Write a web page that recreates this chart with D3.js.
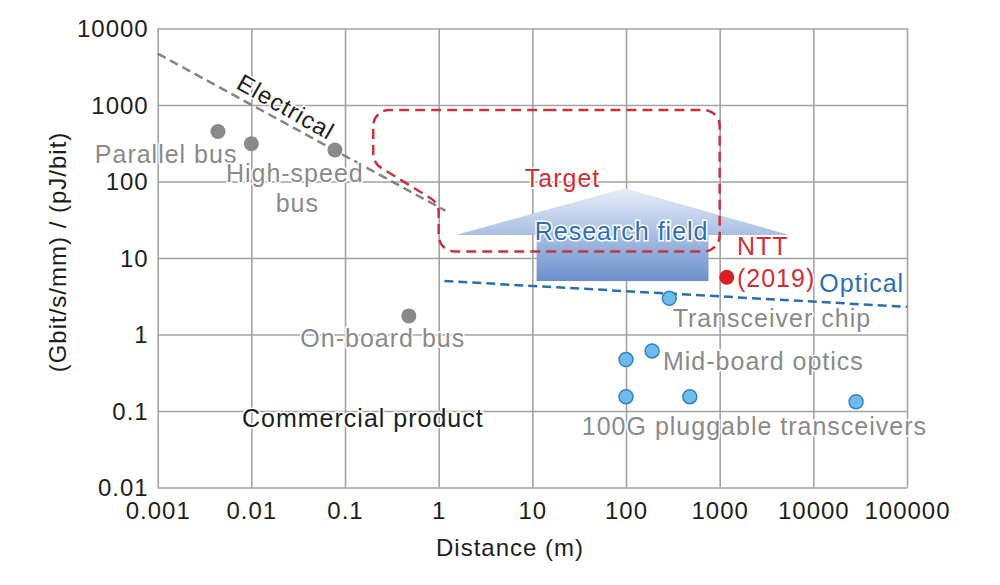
<!DOCTYPE html>
<html>
<head>
<meta charset="utf-8">
<script src="https://cdn.jsdelivr.net/npm/d3@7"></script>
<style>
  body { margin: 0; background: #fff; }
  text { font-family: "Liberation Sans", Arial, sans-serif; letter-spacing: 1px; }
</style>
</head>
<body>
<script>
// axis ticks
var xTicks = [0.001, 0.01, 0.1, 1, 10, 100, 1000, 10000, 100000];
var xTickLabels = ["0.001", "0.01", "0.1", "1", "10", "100", "1000", "10000", "100000"];
var yTicks = [0.01, 0.1, 1, 10, 100, 1000, 10000];
var yTickLabels = ["0.01", "0.1", "1", "10", "100", "1000", "10000"];

// electrical products (distance m, value)
var elecDist = [0.0044, 0.01, 0.078, 0.48];
var elecValue = [450, 312, 258, 1.75];

// optical products
var optDist = [100, 190, 100, 480, 28600, 290];
var optValue = [0.47, 0.61, 0.154, 0.154, 0.132, 2.97];

// NTT (2019)
var nttDist = [1190];
var nttValue = [5.6];

// trend lines
var electricalTrend = [[0.001, 4700], [1.18, 41.5]];
var opticalTrend = [[1.15, 5.0], [100000, 2.3]];

// target region outline and research field arrow
var targetOutline = [[0.2, 860], [1000, 860], [1000, 12.2], [1, 12.2], [1, 52], [0.2, 175]];
var arrowHead = [[1.53, 20], [97, 81.5], [5550, 20]];
var arrowBodyX = [11.1, 760];
var arrowBodyY = [5, 20];

// chart size
var plotLeft = 157.7, plotTop = 28.5, plotRight = 907, plotBottom = 487.5;

var svg = d3.select("body")
            .append("svg")
            .attr("width", 1000)
            .attr("height", 585);

var x = d3.scaleLog().domain([0.001, 100000]).range([plotLeft, plotRight]);
var y = d3.scaleLog().domain([0.01, 10000]).range([plotBottom, plotTop]);

// gradient for the arrow
var grad = svg.append("defs").append("linearGradient")
              .attr("id", "arrowGrad")
              .attr("gradientUnits", "userSpaceOnUse")
              .attr("x1", 0).attr("x2", 0)
              .attr("y1", y(81.5)).attr("y2", y(5));
grad.append("stop").attr("offset", 0).attr("stop-color", "#e8eef8");
grad.append("stop").attr("offset", 0.5).attr("stop-color", "#a9bfe3");
grad.append("stop").attr("offset", 1).attr("stop-color", "#6b8fcc");

// grid
var xAxis = d3.axisBottom(x).tickValues(xTicks)
              .tickSize(-(plotBottom - plotTop))
              .tickFormat(function(d, i) { return xTickLabels[i]; });
var yAxis = d3.axisLeft(y).tickValues(yTicks)
              .tickSize(-(plotRight - plotLeft))
              .tickFormat(function(d, i) { return yTickLabels[i]; });

var gx = svg.append("g")
            .attr("transform", "translate(0," + plotBottom + ")")
            .call(xAxis);
var gy = svg.append("g")
            .attr("transform", "translate(" + plotLeft + ",0)")
            .call(yAxis);

[gx, gy].forEach(function(g) {
  g.select(".domain").remove();
  g.selectAll(".tick line").attr("stroke", "#a3a3a3").attr("stroke-width", 1.6);
  g.selectAll(".tick text").attr("fill", "#1e1e1e").style("font-size", "24px");
});
gx.selectAll(".tick text").attr("y", 14).attr("dy", "0.71em");
gy.selectAll(".tick text").attr("x", -9).attr("dy", "0.34em");

// arrow (research field)
svg.append("rect")
   .attr("x", x(arrowBodyX[0]))
   .attr("y", y(arrowBodyY[1]))
   .attr("width", x(arrowBodyX[1]) - x(arrowBodyX[0]))
   .attr("height", y(arrowBodyY[0]) - y(arrowBodyY[1]))
   .attr("fill", "url(#arrowGrad)");
svg.append("path")
   .attr("d", d3.line().x(function(d) { return x(d[0]); }).y(function(d) { return y(d[1]); })(arrowHead) + "Z")
   .attr("fill", "url(#arrowGrad)");

// trend lines
var line = d3.line().x(function(d) { return x(d[0]); }).y(function(d) { return y(d[1]); });
svg.append("path")
   .attr("d", line(electricalTrend))
   .attr("fill", "none")
   .attr("stroke", "#858585")
   .attr("stroke-width", 2.5)
   .attr("stroke-dasharray", "9,5");
svg.append("path")
   .attr("d", line(opticalTrend))
   .attr("fill", "none")
   .attr("stroke", "#2c6ea8")
   .attr("stroke-width", 2.5)
   .attr("stroke-dasharray", "9,5");

// target outline with rounded corners
var pts = targetOutline.map(function(d) { return [x(d[0]), y(d[1])]; });
var p = d3.path();
p.moveTo((pts[0][0] + pts[1][0]) / 2, (pts[0][1] + pts[1][1]) / 2);
for (var i = 1; i <= pts.length; i++) {
  var a = pts[i % pts.length], b = pts[(i + 1) % pts.length];
  p.arcTo(a[0], a[1], b[0], b[1], 16);
}
p.closePath();
svg.append("path")
   .attr("d", p.toString())
   .attr("fill", "none")
   .attr("stroke", "#c9323c")
   .attr("stroke-width", 2.5)
   .attr("stroke-dasharray", "10,6");

// points
svg.selectAll("circle.elec")
   .data(elecDist)
   .enter()
   .append("circle")
   .attr("class", "elec")
   .attr("cx", function(d) { return x(d); })
   .attr("cy", function(d, i) { return y(elecValue[i]); })
   .attr("r", 7.5)
   .attr("fill", "#8a8a8c");

svg.selectAll("circle.opt")
   .data(optDist)
   .enter()
   .append("circle")
   .attr("class", "opt")
   .attr("cx", function(d) { return x(d); })
   .attr("cy", function(d, i) { return y(optValue[i]); })
   .attr("r", 7)
   .attr("fill", "#6dbcec")
   .attr("stroke", "#3383c3")
   .attr("stroke-width", 1.5);

svg.selectAll("circle.ntt")
   .data(nttDist)
   .enter()
   .append("circle")
   .attr("class", "ntt")
   .attr("cx", function(d) { return x(d); })
   .attr("cy", function(d, i) { return y(nttValue[i]); })
   .attr("r", 7.5)
   .attr("fill", "#d91f24");

// annotations: text, distance, value, colour, anchor
var gray = "#8a8a8a", red = "#cf3037", blue = "#2d6fb6", black = "#1e1e1e";
var notes = [
  ["Parallel bus", 0.00123, 175, gray, "middle"],
  ["High-speed", 0.0291, 98.5, gray, "middle"],
  ["bus", 0.031, 40, gray, "middle"],
  ["On-board bus", 0.253, 0.687, gray, "middle"],
  ["Commercial product", 0.155, 0.0618, black, "middle"],
  ["Target", 21, 84.7, red, "middle"],
  ["Research field", 89.8, 17.2, blue, "middle"],
  ["NTT", 1530, 10.9, red, "start"],
  ["(2019)", 1530, 4.18, red, "start"],
  ["Optical", 11600, 3.6, blue, "start"],
  ["Transceiver chip", 3610, 1.25, gray, "middle"],
  ["Mid-board optics", 2930, 0.344, gray, "middle"],
  ["100G pluggable transceivers", 2350, 0.0485, gray, "middle"]
];
svg.selectAll("text.note")
   .data(notes)
   .enter()
   .append("text")
   .attr("class", "note")
   .attr("x", function(d) { return x(d[1]); })
   .attr("y", function(d) { return y(d[2]); })
   .attr("text-anchor", function(d) { return d[4]; })
   .attr("fill", function(d) { return d[3]; })
   .attr("stroke", "#fff")
   .attr("stroke-width", 3)
   .attr("paint-order", "stroke")
   .style("font-size", "25px")
   .text(function(d) { return d[0]; });

// electrical label along the line
svg.append("text")
   .attr("transform", "translate(" + x(0.0234) + "," + y(942) + ")rotate(29.5)")
   .attr("text-anchor", "middle")
   .attr("dy", "0.35em")
   .attr("fill", black)
   .attr("stroke", "#fff")
   .attr("stroke-width", 3)
   .attr("paint-order", "stroke")
   .style("font-size", "24px")
   .text("Electrical");

// axis titles
svg.append("text")
   .attr("x", 510)
   .attr("y", 556)
   .attr("text-anchor", "middle")
   .attr("fill", black)
   .style("font-size", "24px")
   .text("Distance (m)");
svg.append("text")
   .attr("transform", "translate(66,252)rotate(-90)")
   .attr("text-anchor", "middle")
   .attr("fill", black)
   .style("font-size", "24px")
   .text("(Gbit/s/mm) / (pJ/bit)");
</script>
</body>
</html>
